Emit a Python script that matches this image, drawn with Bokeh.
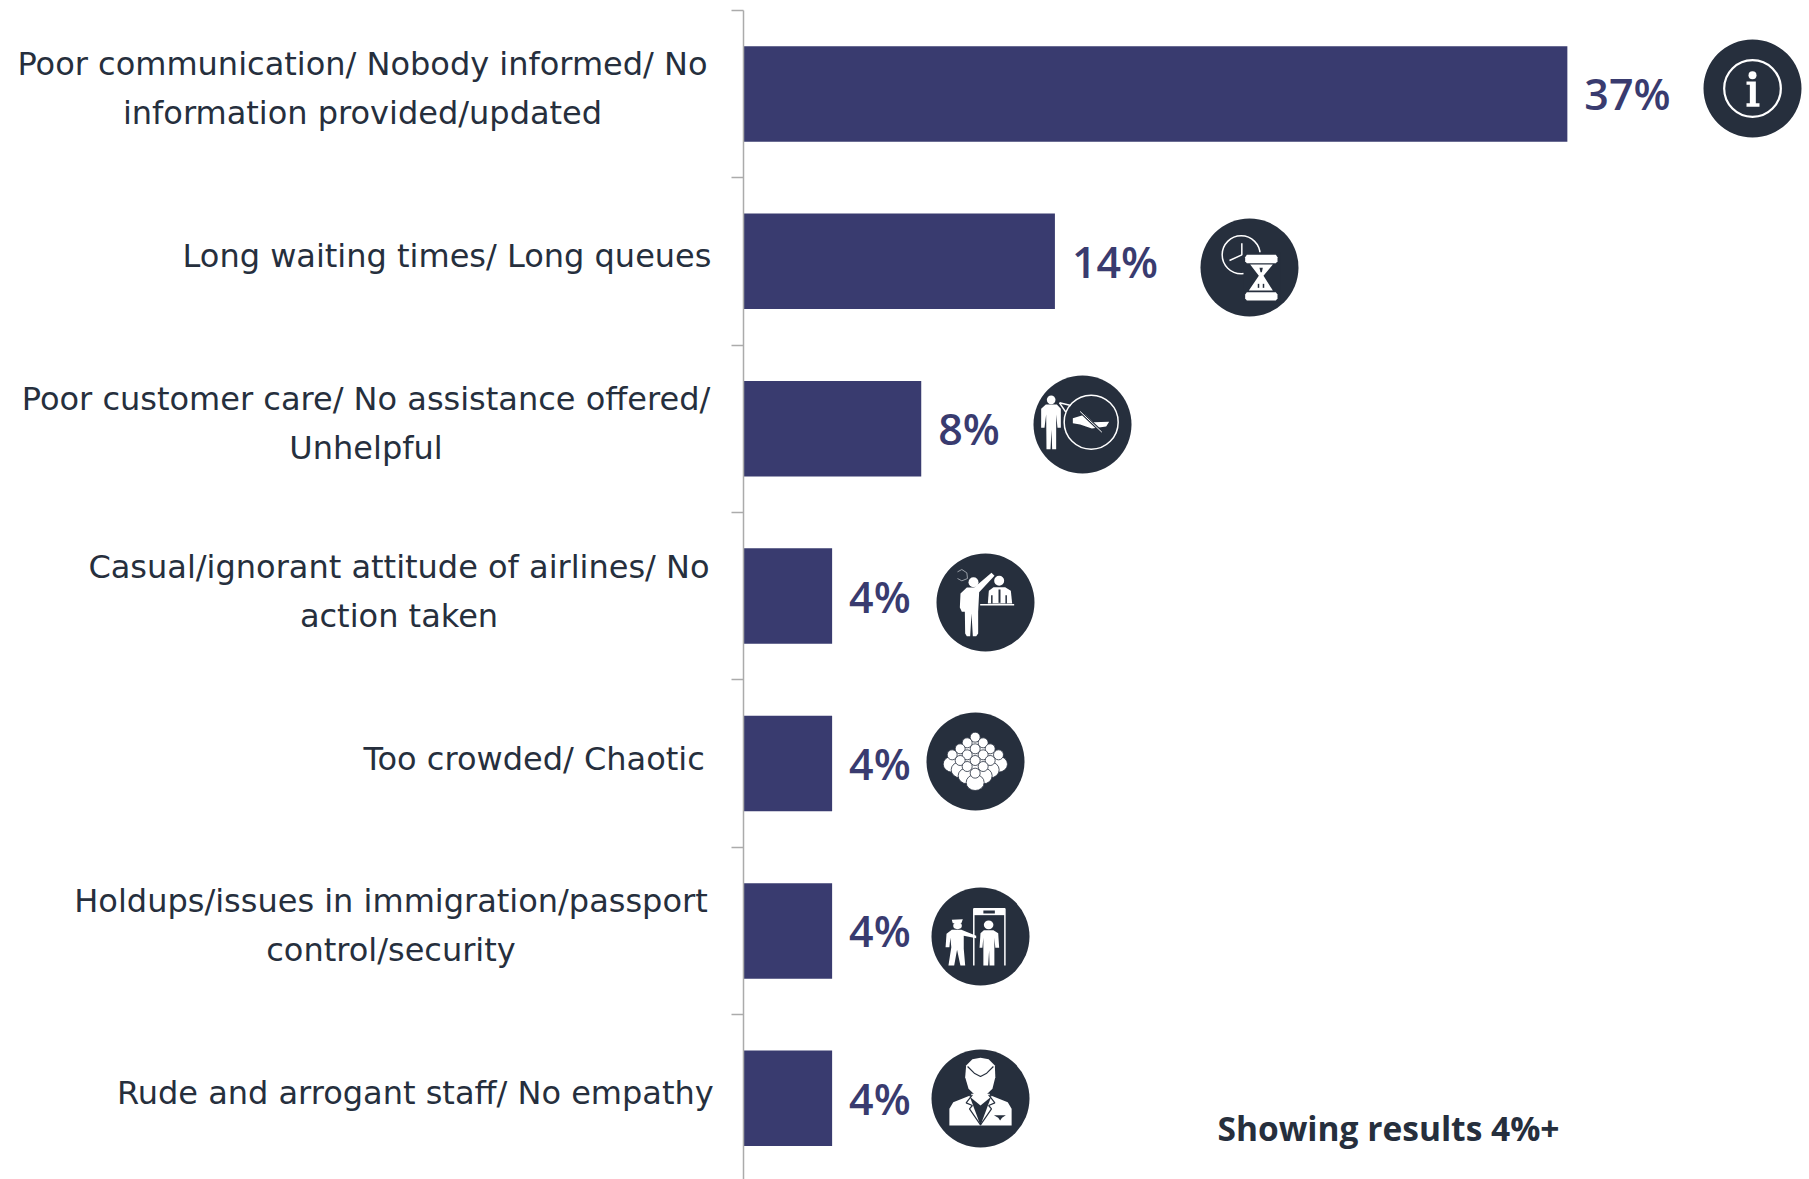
from bokeh.embed import file_html
from bokeh.resources import INLINE
from bokeh.plotting import figure
from bokeh.models import ColumnDataSource, Range1d, LinearAxis, FixedTicker
from bokeh.core.properties import value as V

categories = [
    "Poor communication/ Nobody informed/ No\ninformation provided/updated",
    "Long waiting times/ Long queues",
    "Poor customer care/ No assistance offered/\nUnhelpful",
    "Casual/ignorant attitude of airlines/ No\naction taken",
    "Too crowded/ Chaotic",
    "Holdups/issues in immigration/passport\ncontrol/security",
    "Rude and arrogant staff/ No empathy",
]
percent = [37, 14, 8, 4, 4, 4, 4]
note = "Showing results 4%+"

BAR = "#393b6f"
DARK = "#262f3d"
GREY = "#ababab"
FONT = "DejaVu Sans"
BOLD_FONT = "Open Sans"
LABEL_SIZE = "32px"
VALUE_SIZE = "43px"

# layout, in page pixels
AX_X, WIDTH, HEIGHT = 742.5, 1809, 1179
PX_PER_PCT = 22.28
BAND0, BAND = 9.7, 167.4
label_cx = [362, 446.5, 365.5, 398.5, 533.6, 390.5, 414.8]
LINE_PITCH = 49
LABEL_SHIFT = -5

y_of = lambda page: (page - BAND0) / BAND - 0.5

p = figure(width=WIDTH, height=HEIGHT, output_backend="svg", toolbar_location=None,
           x_range=Range1d(-AX_X / PX_PER_PCT, (WIDTH - AX_X) / PX_PER_PCT),
           y_range=Range1d(y_of(HEIGHT), y_of(0)),
           x_axis_location=None, y_axis_location=None,
           min_border_left=0, min_border_right=0, min_border_top=0, min_border_bottom=0,
           outline_line_color=None, background_fill_color="white", border_fill_color="white")
p.xgrid.visible = False
p.ygrid.visible = False
p.extra_x_ranges["px"] = Range1d(0, WIDTH)
p.extra_y_ranges["px"] = Range1d(HEIGHT, 0)
R = dict(x_range_name="px", y_range_name="px")

# axis with ticks on the band edges
ax = LinearAxis(ticker=FixedTicker(ticks=[i - 0.5 for i in range(len(percent))]),
                fixed_location=0, bounds=(-0.5, y_of(HEIGHT)),
                axis_line_color=GREY, axis_line_width=1.5,
                major_tick_line_color=GREY, major_tick_line_width=1.5,
                major_tick_in=0, major_tick_out=12, minor_tick_line_color=None,
                major_label_text_font_size="0px", major_label_text_color=None)
p.add_layout(ax, "left")

idx = list(range(len(percent)))
src = ColumnDataSource(dict(y=idx, v=percent, t=[f"{v}%" for v in percent]))
p.hbar(y="y", left=0, right="v", height=95.5 / BAND, source=src, fill_color=BAR, line_color=None)
p.text(x="v", y="y", text="t", source=src, x_offset=17, text_align="left", text_baseline="middle",
       text_color=BAR, text_font=V("Open Sans SemiBold"), text_font_size=VALUE_SIZE)

# category labels, one row per line
lx, ly, lt = [], [], []
for i, c in enumerate(categories):
    lines = c.split("\n")
    mid = BAND0 + BAND * (i + 0.5) + LABEL_SHIFT
    for j, s in enumerate(lines):
        lx.append(label_cx[i])
        ly.append(mid + (j - (len(lines) - 1) / 2) * LINE_PITCH)
        lt.append(s)
p.text(x="x", y="y", text="t", source=ColumnDataSource(dict(x=lx, y=ly, t=lt)),
       text_align="center", text_baseline="middle", text_color=DARK,
       text_font=V(FONT), text_font_size=LABEL_SIZE, **R)
p.text(x=[1559], y=[1127], text=[note], text_align="right", text_baseline="middle", text_color=DARK,
       text_font=V(BOLD_FONT), text_font_style="bold", text_font_size="33.5px", **R)

# ---- pictograms, drawn in page pixels ----
W = "white"


class Icon:
    def __init__(self, cx, cy, ox, oy, sx=3.0, sy=3.0):
        self.cx, self.cy, self.ox, self.oy, self.sx, self.sy = cx, cy, ox, oy, sx, sy
        p.scatter([cx], [cy], size=98, marker="circle", fill_color=DARK, line_color=None, **R)

    def X(self, x):
        return self.cx + (x - self.ox) / self.sx

    def Y(self, y):
        return self.cy + (y - self.oy) / self.sy

    def poly(self, pts, color=W):
        p.patch([self.X(a) for a, _ in pts], [self.Y(b) for _, b in pts], fill_color=color, line_color=None, **R)

    def line(self, pts, color=W, w=1.5):
        p.line([self.X(a) for a, _ in pts], [self.Y(b) for _, b in pts], line_color=color, line_width=w, **R)

    def dot(self, x, y, rx, ry=None, color=W, lc=None, lw=1, rot=0):
        ry = rx if ry is None else ry
        p.ellipse([self.X(x)], [self.Y(y)], width=2 * rx / self.sx, height=2 * ry / self.sy, angle=rot,
                  fill_color=color, line_color=lc, line_width=lw, **R)

    def ring(self, x, y, rx, ry=None, color=W, w=1.5):
        ry = rx if ry is None else ry
        p.ellipse([self.X(x)], [self.Y(y)], width=2 * rx / self.sx, height=2 * ry / self.sy,
                  fill_color=None, line_color=color, line_width=w, **R)


# 1 info
a = Icon(1752, 88, 757, 264)
a.ring(757, 264, 85, w=2.2)
a.dot(757, 224, 12)
a.poly([(739, 243), (767, 243), (767, 308), (778, 308), (778, 319), (739, 319), (739, 308), (749, 308), (749, 253), (739, 253)])

# 2 clock + hourglass
a = Icon(1249, 267, 1048, 231)
a.ring(1023, 193, 57, w=1.5)
a.line([(1025, 158), (1025, 193), (988, 210)], w=1.5)
a.poly([(1030, 185), (1140, 185), (1140, 335), (1030, 335)], DARK)
a.poly([(1040, 193), (1127, 193), (1132, 200), (1132, 212), (1127, 218), (1040, 218), (1035, 212), (1035, 200)])
a.poly([(1040, 305), (1127, 305), (1132, 312), (1132, 324), (1127, 330), (1040, 330), (1035, 324), (1035, 312)])
a.poly([(1050, 222), (1118, 222), (1090, 256), (1118, 300), (1046, 300), (1076, 256)])
a.poly([(1078, 232), (1088, 232), (1085, 245), (1081, 245)], DARK)
a.line([(1075, 280), (1075, 292)], DARK, 1.5)
a.line([(1090, 280), (1090, 292)], DARK, 1.5)

# 3 person + refused hand
a = Icon(1082, 424, 547, 702)
a.dot(453, 628, 13)
a.poly([(437, 642), (470, 642), (482, 655), (482, 712), (472, 712), (468, 672), (468, 776), (456, 776), (454, 718), (451, 776), (439, 776), (438, 672), (433, 712), (423, 712), (423, 655)])
a.ring(573, 695, 81, w=1.5)
a.line([(478, 637), (512, 645)], w=1.5)
a.line([(478, 637), (497, 665)], w=1.5)
a.poly([(518, 683), (555, 672), (580, 695), (627, 694), (618, 708), (575, 714), (540, 702), (518, 698)])
a.line([(540, 663), (605, 725)], DARK, 3)
a.line([(540, 663), (605, 725)], W, 1)

# 4 person at desk
a = Icon(985, 602, 496, 217)
a.dot(460, 156, 15)
a.poly([(440, 172), (462, 172), (514, 128), (523, 137), (477, 186), (474, 245), (474, 310), (468, 318), (458, 318), (454, 250), (450, 318), (440, 318), (435, 310), (434, 245), (425, 245), (419, 232), (421, 190)])
a.dot(537, 152, 15)
a.poly([(520, 171), (555, 171), (572, 182), (576, 220), (503, 220), (506, 182)])
a.line([(480, 224), (582, 224)], w=1.5)
a.line([(538, 178), (538, 218)], DARK, 2)
a.line([(515, 195), (515, 220)], DARK, 1.5)
a.line([(558, 195), (558, 220)], DARK, 1.5)
a.line([(412, 125), (425, 118), (440, 128), (442, 145), (425, 152), (412, 145)], "#9aa0a8", 1)

# 5 crowd
a = Icon(975, 761, 466, 693)
for hx, hy in [(465, 620), (441, 637), (489, 637), (420, 655), (465, 655), (510, 655), (396, 673), (535, 673),
               (441, 673), (489, 673), (420, 690), (465, 690), (510, 690), (441, 708), (489, 708), (465, 728)]:
    a.dot(hx, hy + 28, 27, 24, W, DARK, 0.8)
    a.dot(hx, hy, 15, 15, W, DARK, 0.8)

# 6 gate
a = Icon(980, 936, 335, 228, 2.09, 3.0)
a.line([(321, 315), (321, 145), (386, 145), (386, 315)], w=1.5)
a.poly([(321, 145), (386, 145), (386, 164), (321, 164)])
a.poly([(341, 150), (365, 150), (365, 159), (341, 159)], DARK)
a.dot(352, 193, 10, 13)
a.poly([(342, 209), (362, 209), (372, 218), (374, 262), (366, 262), (364, 232), (364, 315), (354, 315), (353, 270), (351, 315), (341, 315), (341, 232), (339, 262), (333, 262), (335, 218)])
a.poly([(275, 178), (298, 176), (295, 188), (277, 188)])
a.dot(287, 196, 9, 10)
a.poly([(275, 208), (295, 208), (326, 226), (326, 233), (300, 226), (300, 265), (303, 315), (293, 315), (286, 268), (280, 315), (268, 315), (274, 260), (272, 232), (270, 260), (262, 260), (264, 220)])

# 7 attendant
a = Icon(980, 1098, 335, 714, 2.09, 3.0)
a.poly([(303, 650), (305, 615), (318, 596), (335, 592), (352, 596), (365, 615), (366, 650), (360, 685), (345, 706), (325, 706), (310, 685)])
a.line([(308, 618), (322, 638), (335, 648), (348, 638), (362, 618)], DARK, 1.2)
a.poly([(316, 700), (354, 700), (356, 710), (335, 735), (314, 710)])
a.poly([(270, 795), (270, 745), (278, 725), (312, 706), (335, 795)])
a.poly([(400, 795), (400, 745), (392, 725), (358, 706), (335, 795)])
a.line([(318, 703), (305, 727), (318, 735), (312, 745), (335, 793)], DARK, 1.2)
a.line([(352, 703), (365, 727), (352, 735), (358, 745), (335, 793)], DARK, 1.2)
a.poly([(363, 764), (388, 764), (380, 772), (376, 780), (372, 772)], DARK)

open("out.html", "w").write(file_html(p, INLINE))
